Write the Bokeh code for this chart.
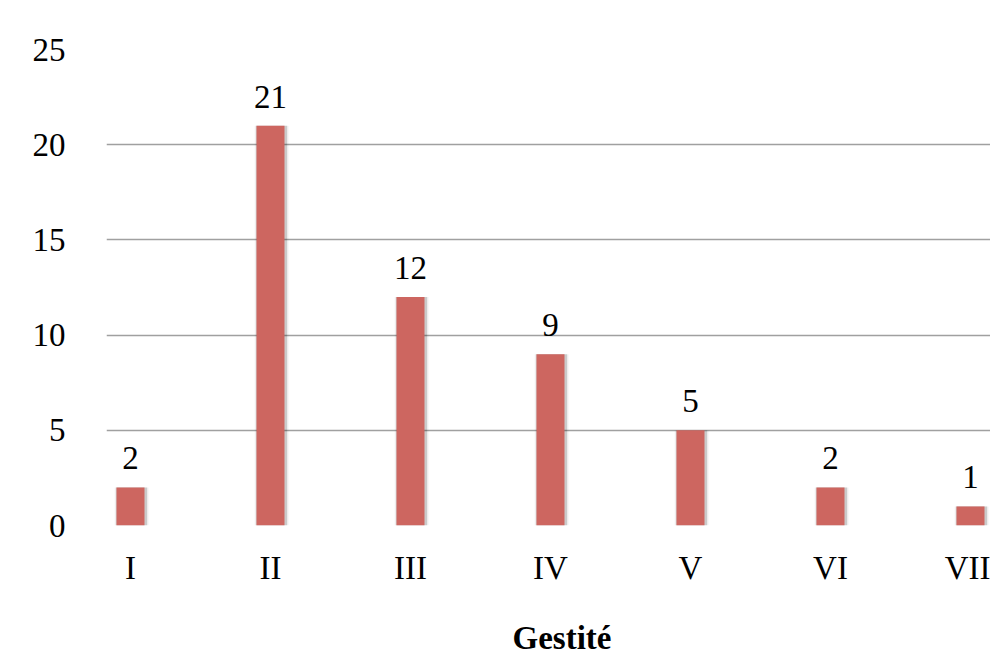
from bokeh.plotting import figure
from bokeh.models import Range1d, FixedTicker, ColumnDataSource, Div
from bokeh.layouts import column
from bokeh.core.properties import value
from bokeh.embed import file_html
from bokeh.resources import INLINE

categories = ["I", "II", "III", "IV", "V", "VI", "VII"]
counts = [2, 21, 12, 9, 5, 2, 1]
y_ticks = [0, 5, 10, 15, 20, 25]
x_title = "Gestité"

xs = [i + 1 for i in range(len(categories))]
src = ColumnDataSource(dict(x=xs, top=counts, lab=[str(c) for c in counts],
                            xs=[x + 0.008 for x in xs]))

FONT = "Liberation Serif"

p = figure(width=990, height=610, output_backend="svg", toolbar_location=None,
           x_range=Range1d(0.8286, 7.1429), y_range=Range1d(0, 25),
           min_border_left=106, min_border_right=0, min_border_top=49,
           min_border_bottom=85)
p.outline_line_color = None
p.background_fill_color = "white"
p.border_fill_color = "white"

# soft shadow layers
p.vbar(x="xs", top="top", bottom=-0.12, width=0.24, source=src,
       fill_color="#000000", fill_alpha=0.07, line_color=None)
p.vbar(x="xs", top="top", bottom=-0.06, width=0.22, source=src,
       fill_color="#000000", fill_alpha=0.14, line_color=None)
p.vbar(x="x", top="top", bottom=0, width=0.2, source=src,
       fill_color="#CD6660", line_color=None)

p.text(x="x", y="top", text="lab", source=src, text_align="center",
       text_baseline="alphabetic", y_offset=-29,
       text_font=value(FONT), text_font_size="33px", text_color="black")

p.xaxis.ticker = FixedTicker(ticks=xs)
p.xaxis.major_label_overrides = {x: c for x, c in zip(xs, categories)}
p.yaxis.ticker = FixedTicker(ticks=y_ticks)
for ax in (p.xaxis[0], p.yaxis[0]):
    ax.axis_line_color = None
    ax.major_tick_line_color = None
    ax.minor_tick_line_color = None
    ax.major_label_text_font = FONT
    ax.major_label_text_font_size = "33px"
    ax.major_label_text_color = "black"
p.yaxis.major_label_standoff = 35
p.xaxis.major_label_standoff = 18

p.xgrid.grid_line_color = None
p.ygrid.ticker = FixedTicker(ticks=[5, 10, 15, 20])
p.ygrid.grid_line_color = "#A0A0A0"
p.ygrid.grid_line_width = 1.5

title_div = Div(text=x_title, width=200, height=47, margin=(0, 0, 0, 462),
                styles={"font-family": FONT, "font-weight": "bold",
                        "font-size": "33px", "line-height": "33px",
                        "text-align": "center", "color": "black",
                        "padding-top": "12px", "box-sizing": "border-box"})

layout = column(p, title_div, spacing=0)

open("out.html", "w").write(file_html(layout, INLINE))
